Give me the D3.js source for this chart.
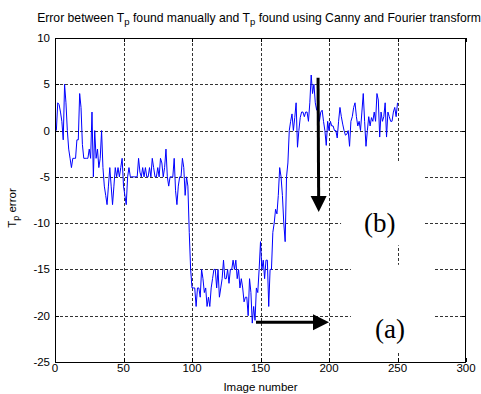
<!DOCTYPE html>
<html><head><meta charset="utf-8">
<script src="https://cdn.jsdelivr.net/npm/d3@7"></script>
<style>body{margin:0;background:#fff}</style>
</head><body>
<svg id="c" width="481" height="394"></svg>
<script>
// ---- data ----
const xTicks = [0, 50, 100, 150, 200, 250, 300];
const yTicks = [10, 5, 0, -5, -10, -15, -20, -25];
// Tp error for image numbers 1..250
const tpError = [
  0, 3, 2.8, 2, 1, -1, 5, 3, 0, -2,
  -3, -4, -3, -3, -3, -1, -1, 4, 2.5, -1.5,
  -3, -3, -3, -3, -2, -3, 2, -5, 0, -3,
  -2, -4, -3, 0, -4, -6, -7, -8, -6, -4,
  -6, -8, -6, -4, -5, -4, -5, -4, -3, -6,
  -7, -8, -5, -4, -5, -5, -5, -5, -5, -5,
  -3, -4.5, -5, -4, -5, -4, -5, -5, -4, -5,
  -3, -4, -5, -5, -4, -5, -3, -3.5, -5, -4,
  -2, -5, -6, -5, -5, -5, -3, -6.5, -8, -6,
  -5, -5, -3, -4, -7, -5, -6, -11, -15, -17,
  -17, -17, -19, -17, -17, -18, -15, -16, -17.5, -17,
  -19, -18, -19, -17, -16, -15, -15, -17, -15, -18,
  -17, -16, -14, -16, -16, -15, -16.5, -15, -15, -14,
  -15, -14, -16, -15, -17, -16, -17, -18.5, -18, -18,
  -20, -16, -17.5, -20.8, -19, -20.5, -17, -17.5, -15, -12,
  -15, -14, -16, -14, -14, -19, -15, -15, -11, -10,
  -8.5, -9, -7, -4, -5, -7, -10, -12, -5, -3.5,
  0, 1, 1.8, 0, 1.4, 3, -1.8, 0, 1.4, 2,
  2, 1.5, 2, 2, 1, 3, 6, 4, 5, 3,
  2.2, 3, 1, 2, 2.2, 1, 0, -1.6, 1, 0,
  1, 0.5, 0.5, 0, 0, -0.8, 1, 2.5, 1.5, 0.7,
  0, -0.5, -0.4, 0, -1.7, 1, 1.5, 2.5, 3, 1.5,
  0.5, 1, 0, 2, 4, 1, -1.7, 0, 1.5, 0.5,
  1.4, 1, 2, 1, 4, 3.3, -0.7, 2, 1, 1.5,
  3, -0.7, 2, 1.5, 1, 1, 2, 2.5, 1.5, 3
];
const titleParts = ["Error between T", "p", " found manually and T", "p", " found using Canny and Fourier transform"];
const xLabel = "Image number";
const yLabelParts = ["T", "p", " error"];
// annotations in data coordinates
const arrowB = {x1: 192, y1: 5.7, x2: 192.5, y2: -8.8};
const arrowA = {x1: 146.7, y1: -20.7, x2: 200, y2: -20.7};
const labelB = {text: "(b)", x: 237, y: -11};
const labelA = {text: "(a)", x: 244.5, y: -22.4};
const maskB = {x0: 208.8, x1: 269.3, y0: -3.4, y1: -12.4};
const maskA = {x0: 216, x1: 276, y0: -14.5, y1: -24.0};

// ---- layout ----
const svg = d3.select("#c");
const L = 55, R = 466, T = 38, B = 362;
const x = d3.scaleLinear().domain([0, 300]).range([L, R]);
const y = d3.scaleLinear().domain([-25, 10]).range([B, T]);
const font = "'Liberation Sans', Arial, sans-serif";

svg.append("rect").attr("width", 481).attr("height", 394).attr("fill", "#fff");

// grid
const grid = svg.append("g").attr("stroke", "#333").attr("stroke-width", 1).attr("stroke-dasharray", "3,2").attr("fill", "none");
grid.selectAll("line.v").data(xTicks.slice(1, -1)).join("line")
  .attr("x1", d => Math.round(x(d)) + 0.5).attr("x2", d => Math.round(x(d)) + 0.5)
  .attr("y1", T).attr("y2", B);
grid.selectAll("line.h").data(yTicks.slice(1, -1)).join("line").attr("class", "h")
  .attr("y1", d => Math.round(y(d)) + 0.5).attr("y2", d => Math.round(y(d)) + 0.5)
  .attr("x1", L).attr("x2", R);

// white label backgrounds
[maskB, maskA].forEach(m => {
  svg.append("rect").attr("x", x(m.x0)).attr("width", x(m.x1) - x(m.x0))
    .attr("y", y(m.y0)).attr("height", y(m.y1) - y(m.y0)).attr("fill", "#fff");
});

// data line
const line = d3.line().x((d, i) => x(i + 1)).y(d => y(d));
svg.append("path").datum(tpError).attr("d", line)
  .attr("fill", "none").attr("stroke", "#0000ff").attr("stroke-width", 1);

// arrows
[arrowB, arrowA].forEach(a => {
  const dx = x(a.x2) - x(a.x1), dy = y(a.y2) - y(a.y1);
  const len = Math.hypot(dx, dy), sh = 14;
  svg.append("line").attr("x1", x(a.x1)).attr("y1", y(a.y1))
    .attr("x2", x(a.x2) - dx / len * sh).attr("y2", y(a.y2) - dy / len * sh)
    .attr("stroke", "#000").attr("stroke-width", 3);
  const ux = dx / len, uy = dy / len, px = -uy, py = ux;
  const tx = x(a.x2), ty = y(a.y2), bx = tx - ux * 16, by = ty - uy * 16;
  svg.append("path").attr("d", `M${tx},${ty} L${bx + px * 8},${by + py * 8} L${bx - px * 8},${by - py * 8} Z`).attr("fill", "#000");
});

// labels (a), (b)
[labelB, labelA].forEach(l => {
  svg.append("text").attr("x", x(l.x)).attr("y", y(l.y)).attr("text-anchor", "middle")
    .attr("font-family", "'Liberation Serif', 'Times New Roman', serif").attr("font-size", 27)
    .attr("fill", "#000").text(l.text);
});

// axes box
const ax = svg.append("g").attr("stroke", "#000").attr("stroke-width", 1).attr("fill", "none");
ax.append("rect").attr("x", L + 0.5).attr("y", T + 0.5).attr("width", R - L - 1).attr("height", B - T);
const tl = 4;
xTicks.forEach(d => {
  const xx = Math.round(x(d)) + 0.5;
  ax.append("line").attr("x1", xx).attr("x2", xx).attr("y1", B).attr("y2", B - tl);
  ax.append("line").attr("x1", xx).attr("x2", xx).attr("y1", T).attr("y2", T + tl);
});
yTicks.forEach(d => {
  const yy = Math.round(y(d)) + 0.5;
  ax.append("line").attr("x1", L).attr("x2", L + tl).attr("y1", yy).attr("y2", yy);
  ax.append("line").attr("x1", R).attr("x2", R - tl).attr("y1", yy).attr("y2", yy);
});

// tick labels
const fs = 11.5;
svg.selectAll("text.xt").data(xTicks).join("text").attr("class", "xt")
  .attr("x", d => x(d)).attr("y", B + 10).attr("text-anchor", "middle")
  .attr("font-family", font).attr("font-size", fs).attr("fill", "#000").text(d => d);
svg.selectAll("text.yt").data(yTicks).join("text").attr("class", "yt")
  .attr("x", L - 5).attr("y", d => y(d) + 4).attr("text-anchor", "end")
  .attr("font-family", font).attr("font-size", fs).attr("fill", "#000").text(d => d);

// axis labels
svg.append("text").attr("x", (L + R) / 2).attr("y", 391).attr("text-anchor", "middle")
  .attr("font-family", font).attr("font-size", fs).attr("fill", "#000").text(xLabel);

const yl = svg.append("text").attr("transform", `translate(16,${(T + B) / 2 + 8}) rotate(-90)`)
  .attr("text-anchor", "middle").attr("font-family", font).attr("font-size", fs).attr("fill", "#000");
yl.append("tspan").text(yLabelParts[0]);
yl.append("tspan").attr("dy", 3).attr("font-size", 9).text(yLabelParts[1]);
yl.append("tspan").attr("dy", -3).text(yLabelParts[2]);

// title
const tt = svg.append("text").attr("x", 259).attr("y", 22).attr("text-anchor", "middle")
  .attr("font-family", font).attr("font-size", 12.2).attr("fill", "#000");
titleParts.forEach((p, i) => {
  const t = tt.append("tspan").text(p);
  if (i === 1 || i === 3) t.attr("dy", 3).attr("font-size", 9.5);
  else if (i > 0) t.attr("dy", -3);
});
</script>
</body></html>
